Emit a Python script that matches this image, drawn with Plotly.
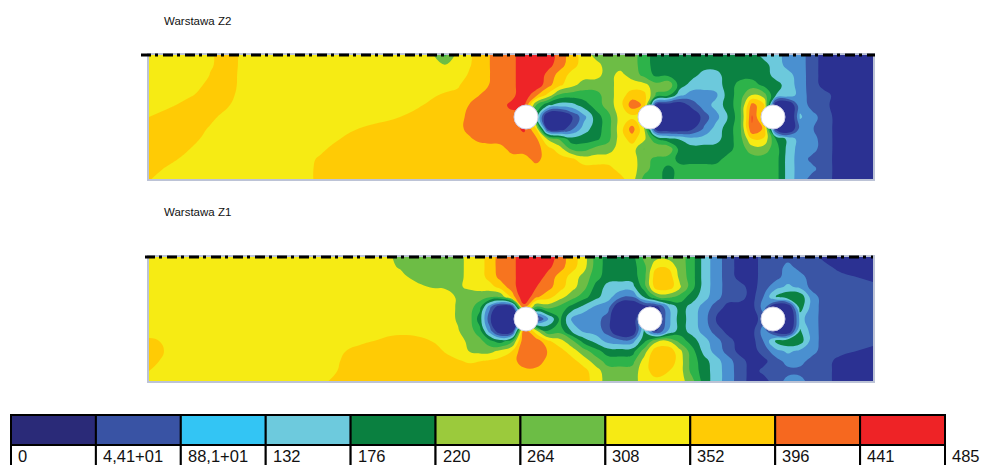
import numpy as np
import plotly.graph_objects as go

W, H = 983, 465

# --- data ---
x_positions = [149,170,190,210,230,250,280,320,360,400,
               432,445,458,470,480,490,500,512,524,536,
               548,560,572,584,596,608,620,632,644,656,
               668,680,692,704,716,728,740,752,764,776,
               788,800,812,824,840,873]
y_positions = [0,10,20,30,40,50,62,74,84,94,104,114,124]
holes_x = [526, 650, 773]
holes_y = [62, 62, 62]

band_width = 44.1
legend_labels = ["0","4,41+01","88,1+01","132","176","220","264","308","352","396","441"]
legend_end_label = "485"
legend_colors = ["#2a2a78","#3953a4","#33c5f4","#6dcadd","#0a8040","#9bca3c",
                 "#6cbd45","#f6ea14","#ffcb05","#f6681f","#ee2326"]
map_colors = ["#2b3192","#3a55a5","#4a90d0","#6cc9dc","#0b8242","#2db34a",
              "#6dbd45","#f6eb14","#ffcb05","#f7741f","#ee2427"]

# stress read at each grid point, in band units (n = middle of legend band n), layer Z2
z2_bands = [
 [6.7,6.7,6.7,7.42,7.82,7.02,6.7,6.7,6.7,6.7, 6.7,5,6.9,7.38,7.78,8.54,9,9,10.5,10.5, 10.3,9,8,7,6,6,6,6,5,4, 4,4,4,4,4,4,4,4,3,3, 2,2,1,0,0,0],
 [6.7,6.7,6.7,7.42,7.82,7.02,6.7,6.7,6.7,6.7, 6.7,6.7,6.94,7.42,7.82,8.54,9,9,10.5,10.5, 10,9,8,7,7,6,6,6,5,4, 4,4,4,4,4,4,4,4,4,3, 2,2,1,0,0,0],
 [6.7,6.7,6.7,7.5,7.78,6.98,6.7,6.7,6.7,6.7, 6.7,6.7,7.1,7.58,7.98,8.5,9,9,10.5,10.5, 9,8,7,7,7,6,7,6,5,4, 4,4,4,3,3,4,4,4,4,3, 3,2,1,0,0,0],
 [6.7,6.7,6.98,7.78,7.78,6.98,6.7,6.7,6.7,6.7, 6.7,6.9,7.42,7.9,8.1,8.5,9,9,10.5,10.5, 9,8,7,6,6,6,7,7,7,6, 7,4,3,3,3,4,5,5,4,4, 3,2,1,0,0,0],
 [6.7,6.7,7.3,8.1,7.7,6.9,6.7,6.7,6.7,6.7, 7.3,7.82,7.62,8.1,8.5,8.9,9,9,10.5,9, 7.5,5,5,5,5,6,7,8,8,6, 5.5,3,2,2,2,4,5,6.5,6,4, 4,2,1,1,0,0],
 [6.7,7.3,8.1,8.3,7.5,6.7,6.7,6.7,6.7,6.7, 7.86,7.58,8.1,8.58,8.98,9.3,9,10,10,5, 3.5,3,3,4,5,6,7,9.5,9,-1, -1,-1,1,2,3,4,5,9.5,8.5,-2, -2,2.5,1,0.7,0,0],
 [7.5,8.3,8.3,7.78,6.98,6.7,6.7,6.7,6.7,7.5, 7.8,7.7,8.22,8.7,9.1,9.3,9,9,9,4, -2,-2,0.3,2,4,5,7,7,6,-1, -1,-1,-1,1,2,3.5,5,10,7,-2, -2,3,2,1,0,0],
 [8.3,8.3,8.18,7.38,6.7,6.7,6.7,6.7,7.5,8.3, 7.8,7.78,8.3,8.78,9.18,9.3,9,9,10,8, -1,-1,1,3,4,5,7,9.5,7,-1, -1,-1,0,1.5,3,4,5,10,9,-1, -2,2,1.5,1,0,0],
 [8.3,8.3,7.9,7.1,6.7,6.7,6.7,6.7,8.3,8.3, 7.8,7.8,7.9,8.38,8.78,9.18,9,9,9,9, 7,6,4,4,4,5,7,8,7,5, 4,4,3,3,3,4,5,7.5,7.5,5, 4,2,2,1,0,0],
 [8.3,8.3,7.5,6.7,6.7,6.7,6.7,7.38,8.3,8, 8,8,8,8,8,7.7,8,9,9,9, 8,7,5,5,6,6,7,7,5,7, 7,4,4,4,4,4,5,6,6,5, 3,2,2,1,0,0],
 [8.3,7.82,7.02,6.7,6.7,6.7,6.7,7.62,8.3,8, 8,8,8,8,8,8,8,8,8,9, 8,8,8,7,7,7,7,7,6,5, 5,4,4,4,4,5,5,5,5,5, 3,2,1,1,0,0],
 [8.06,7.22,6.7,6.7,6.7,6.7,6.7,7.66,8,8, 8,8,8,8,8,8,8,8,8,8, 8,8,8,8,8,8,7,7,6,5, 4,5,5,5,5,5,5,5,5,5, 3,2,2,1,0,0],
 [7.54,6.7,6.7,6.7,6.7,6.7,6.7,7.66,8,8, 8,8,8,8,8,8,8,8,8,8, 8,8,8,8,8,8,8,7,5,5, 4,5,5,5,5,5,5,5,5,5, 3,2,1,1,0,0],
]

# stress read at each grid point, in band units, layer Z1
z1_bands = [
 [7,7,7,7,7,7,7,7,6.9,6.4, 6,6,6.2,6.8,7,8,9,9,10.5,10.5, 10.3,9,8,7,5,4,4,4,6,6, 6,6,5,3,2,1,0,0,1,1, 1,1,1,0,0,0],
 [7,7,7,7,7,7,7,7,6.9,6.45, 6,6,6.2,6.8,7,8,9,9,10.5,10.5, 9.8,9,8,7,5,4,4,4,5,7.5, 7.5,6,5,3,2,1,0,0,1,1, 2,1,1,1,0,0],
 [7,7,7,7,7,7,7,7,7,6.6, 6.1,6.1,6.2,6.8,7,8,9,9,10.5,10.3, 9,8,7,6,5,4,4,4,5,8.5, 8.5,6,5,3,2,1,0,0,1,1, 2,2,1,1,1,0],
 [7,7,7,7,7,7,7,7,7,7, 6.4,6.4,6.4,6.7,7,7,8,9,10.5,9.5, 9,8,7,6,4,3,3,3,5,8.5, 8.5,7,5,3,2,1,1,0,1,2, 2.5,2,1,1,1,1],
 [7,7,7,7,7,7,7,7,7,7, 7.1,6.9,6.4,6,6,6,6,9,10.8,9, 8,7,6,5,4,3,2,1.5,4,6, 6,5,4,3,2,1,1,0,1.5,4.8, 5.5,4.8,2,1,1,1],
 [7,7,7,7,7,7,7,7,7,7, 7,6.9,6.4,6,5,1,-1.5,-1.5,10,5, 6,5,4,3,2,2,-1.5,-1.5,-1,-1, 2,4,3,2,1,0,0,0,2.5,-2, -2,4.5,2,1,1,1],
 [7,7,7,7,7,7,7,7,7,7, 7,6.9,6.4,6,4,0.5,-2,-2,5,-1, 2,5,2,1.5,2,1,-1.5,-1.5,5,-1, 2.2,4.2,3,2,0.3,0,0,0,1,-2, -2,3,2,1,1,1],
 [6.9,7,7,7,7,7,7,7,7,7.2, 7,7,6.55,6,5,1.5,-1.5,-1.5,10.2,7, 4,5,3,2,2,1,-1.5,-1.5,4,-1, 2,4,3,2,1,0,0,0,2.5,-1, -2,4,2,1,1,1],
 [7.8,7.3,7,7,7,7,7,7,7.3,7.9, 7.5,7.1,6.9,6.3,6,5,4,5.5,9.6,9.4, 8,7,6,4,3,2,2,2,4,7, 7,5,4,3,2,1,0,0,1.5,4.8, 5.5,4.5,2,1,1,1],
 [7.8,7.42,7,7,7,7,7,7,7.8,8, 8,7.4,7,6.3,6,6,7,7.6,9.5,9.5, 8.5,8,7,6,5,4,4,4,6,8.5, 8.5,7,5,3,2,1,0,0,1,2, 2.5,2,2,1,1,0],
 [7.94,7.1,7,7,7,7,7,7,8,8, 8,7.9,7.6,7.4,7.6,7.8,8,8,9.4,9.4, 8,8,8,7,6,5,5,5,7,8.5, 8.5,7,5,4,3,2,1,0,0,1, 2,2,1,1,0,0],
 [7.54,6.7,7,7,7,7,7,7.1,8,8, 8,8,8,8,8,8,8,8,8,8, 8,8,8,8,7,6,6,6,7,8.3, 7.5,7,5,4,3,2,1,0,1,1, 1,1,1,1,0,0],
 [6.8,7,7,7,7,7,7,7.4,8,8, 8,8,8,8,8,8,8,8,8,8, 8,8,8,8,7,6,6,6,7,7, 7,7,6,4,3,2,1,0,0,1, 2,2,1,1,0,0],
]

for name, grid in (("z2", z2_bands), ("z1", z1_bands)):
    for i, r in enumerate(grid):
        assert len(r) == len(x_positions), (name, i, len(r))


def soften(grid, spread=5.0):
    """Take the stair-steps of the hand-read grid out of the field (light spatial filter)."""
    z = np.array(grid, dtype=float)
    xs, ys = np.array(x_positions, float), np.array(y_positions, float)
    kx = np.exp(-((xs[:, None] - xs[None, :]) ** 2) / (2 * spread ** 2))
    ky = np.exp(-((ys[:, None] - ys[None, :]) ** 2) / (2 * spread ** 2))
    kx /= kx.sum(axis=1, keepdims=True)
    ky /= ky.sum(axis=1, keepdims=True)
    return ky @ z @ kx.T


stress_z2 = (soften(z2_bands) + 0.5) * band_width
stress_z1 = (soften(z1_bands) + 0.5) * band_width

n = len(map_colors)
scale = []
for i, c in enumerate(map_colors):
    scale += [[i / n, c], [(i + 1) / n, c]]


def contour(z, xa, ya):
    return go.Contour(
        z=z, x=x_positions, y=y_positions, xaxis=xa, yaxis=ya,
        autocontour=False, colorscale=scale, showscale=False,
        contours=dict(start=band_width, end=445, size=band_width,
                      coloring="fill", showlines=False),
        line=dict(width=0, smoothing=1.3), hoverinfo="skip",
    )


def holes(xa, ya):
    return go.Scatter(
        x=holes_x, y=holes_y, xaxis=xa, yaxis=ya, mode="markers",
        marker=dict(size=24, color="white", line=dict(color="#cfcfe6", width=1)),
        hoverinfo="skip", showlegend=False,
    )


fig = go.Figure()
fig.add_trace(contour(stress_z2, "x", "y"))
fig.add_trace(holes("x", "y"))
fig.add_trace(contour(stress_z1, "x2", "y2"))
fig.add_trace(holes("x2", "y2"))

legend_x = list(range(len(legend_colors)))
fig.add_trace(go.Bar(x=legend_x, y=[30] * 11, base=0, width=1, xaxis="x3", yaxis="y3",
                     marker=dict(color=legend_colors, line=dict(color="black", width=2)),
                     showlegend=False, hoverinfo="skip"))
fig.add_trace(go.Bar(x=legend_x, y=[30] * 11, base=-30, width=1, xaxis="x3", yaxis="y3",
                     marker=dict(color="white", line=dict(color="black", width=2)),
                     showlegend=False, hoverinfo="skip"))


def px_x(a, b):
    return [a / W, b / W]


def px_y(top, bottom):
    return [1 - bottom / H, 1 - top / H]


frame = dict(showline=True, linecolor="#bcc3d6", linewidth=1.5, mirror=True,
             showticklabels=False, ticks="", showgrid=False, zeroline=False)
ann = []
label_font = dict(family="Liberation Sans, Arial", size=16.5, color="#111111")
for i, t in enumerate(legend_labels):
    ann.append(dict(x=i - 0.5 + 5 / 85, y=-11, xref="x3", yref="y3", text=t, showarrow=False,
                    xanchor="left", yanchor="middle", font=label_font))
ann.append(dict(x=950 / W, y=1 - 456 / H, xref="paper", yref="paper", text=legend_end_label,
                showarrow=False, xanchor="left", yanchor="middle", font=label_font))
title_font = dict(family="Liberation Sans, Arial", size=11.5, color="#111111")
ann.append(dict(x=162 / W, y=1 - 21 / H, xref="paper", yref="paper", text="Warstawa Z2",
                showarrow=False, xanchor="left", yanchor="middle", font=title_font))
ann.append(dict(x=162 / W, y=1 - 212 / H, xref="paper", yref="paper", text="Warstawa Z1",
                showarrow=False, xanchor="left", yanchor="middle", font=title_font))

dash_line = dict(color="black", width=3, dash="10px,4px,3px,5px")
shapes = [
    dict(type="line", xref="paper", yref="paper", x0=141 / W, x1=875 / W,
         y0=1 - 55 / H, y1=1 - 55 / H, line=dash_line, layer="above"),
    dict(type="line", xref="paper", yref="paper", x0=145 / W, x1=873 / W,
         y0=1 - 257 / H, y1=1 - 257 / H, line=dash_line, layer="above"),
]

fig.update_layout(
    width=W, height=H, margin=dict(l=0, r=0, t=0, b=0), autosize=False,
    paper_bgcolor="white", plot_bgcolor="white", showlegend=False, barmode="overlay",
    annotations=ann, shapes=shapes,
    xaxis=dict(domain=px_x(149, 873), range=[149, 873], anchor="y", **frame),
    yaxis=dict(domain=px_y(55, 179), range=[124, 0], anchor="x", **frame),
    xaxis2=dict(domain=px_x(149, 873), range=[149, 873], anchor="y2", **frame),
    yaxis2=dict(domain=px_y(257, 381), range=[124, 0], anchor="x2", **frame),
    xaxis3=dict(domain=px_x(10, 946), range=[-0.5 - 1 / 85, 10.5 + 1 / 85], anchor="y3",
                visible=False, fixedrange=True),
    yaxis3=dict(domain=px_y(414, 465), range=[-20, 31], anchor="x3",
                visible=False, fixedrange=True),
)

fig.write_html("out.html", config=dict(displayModeBar=False),
               post_script="document.body.style.margin='0';document.body.style.overflow='hidden';")
